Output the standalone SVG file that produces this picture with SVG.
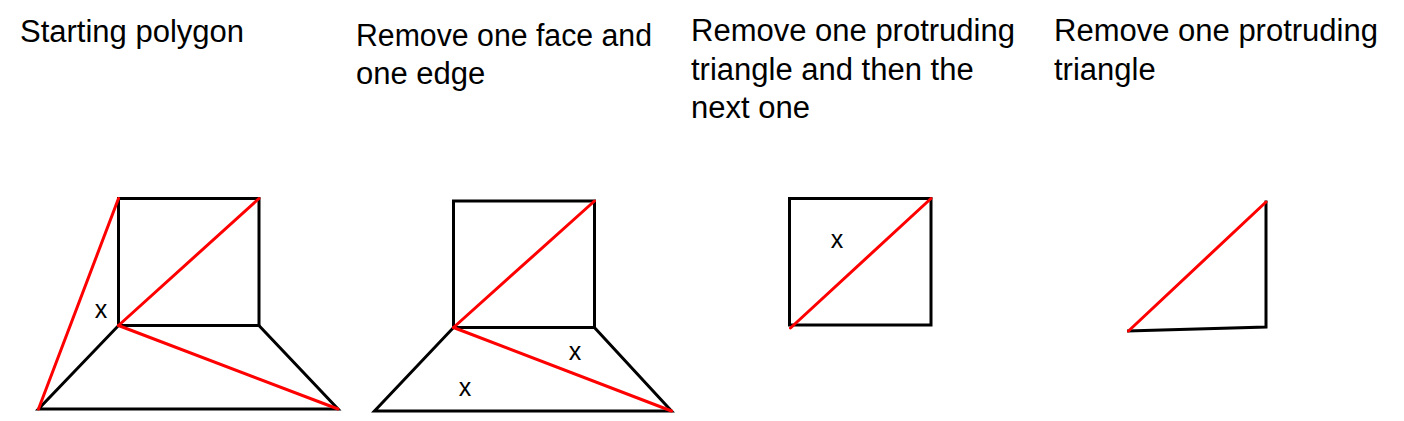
<svg xmlns="http://www.w3.org/2000/svg" width="1404" height="421" viewBox="0 0 1404 421">
<style>
.bg{fill:#ffffff}
.t{font-family:"Liberation Sans","Arial",sans-serif;font-size:31px;fill:#000000}
.m{font-family:"Liberation Sans","Arial",sans-serif;font-size:25px;fill:#000000;text-anchor:middle}
.k{fill:none;stroke:#000000;stroke-width:3;stroke-linecap:square;stroke-linejoin:miter}
.r{fill:none;stroke:#ff0000;stroke-width:3;stroke-linecap:round}
</style>
<rect class="bg" x="0" y="0" width="1404" height="421"/>
<g id="panel1">
  <text class="t" x="20" y="42">Starting polygon</text>
  <rect class="k" x="118.5" y="198.5" width="140.5" height="127"/>
  <polyline class="k" points="118.5,325.5 38.5,409 338,409 259,325.5"/>
  <line class="r" x1="38.5" y1="409" x2="118.5" y2="198.5"/>
  <line class="r" x1="118.5" y1="325.5" x2="259" y2="198.5"/>
  <line class="r" x1="118.5" y1="325.5" x2="338" y2="409"/>
  <text class="m" x="101" y="318">x</text>
</g>
<g id="panel2">
  <text class="t" x="356" y="46" textLength="296" lengthAdjust="spacingAndGlyphs">Remove one face and</text>
  <text class="t" x="356" y="84">one edge</text>
  <rect class="k" x="453.5" y="201" width="141" height="126.5"/>
  <polyline class="k" points="453.5,327.5 374.5,411 671.5,411 594.5,327.5"/>
  <line class="r" x1="453.5" y1="327.5" x2="594.5" y2="201"/>
  <line class="r" x1="453.5" y1="327.5" x2="671.5" y2="411"/>
  <text class="m" x="575" y="360">x</text>
  <text class="m" x="465" y="396">x</text>
</g>
<g id="panel3">
  <text class="t" x="691" y="41">Remove one protruding</text>
  <text class="t" x="691" y="80">triangle and then the</text>
  <text class="t" x="691" y="118">next one</text>
  <rect class="k" x="789.5" y="198.5" width="141.5" height="126.5"/>
  <line class="r" x1="790.5" y1="328" x2="931" y2="198.5"/>
  <text class="m" x="837" y="248">x</text>
</g>
<g id="panel4">
  <text class="t" x="1054" y="41">Remove one protruding</text>
  <text class="t" x="1054" y="80">triangle</text>
  <polyline class="k" points="1266,202 1266,327 1128.5,331"/>
  <line class="r" x1="1128.5" y1="331" x2="1266" y2="202"/>
</g>
</svg>
